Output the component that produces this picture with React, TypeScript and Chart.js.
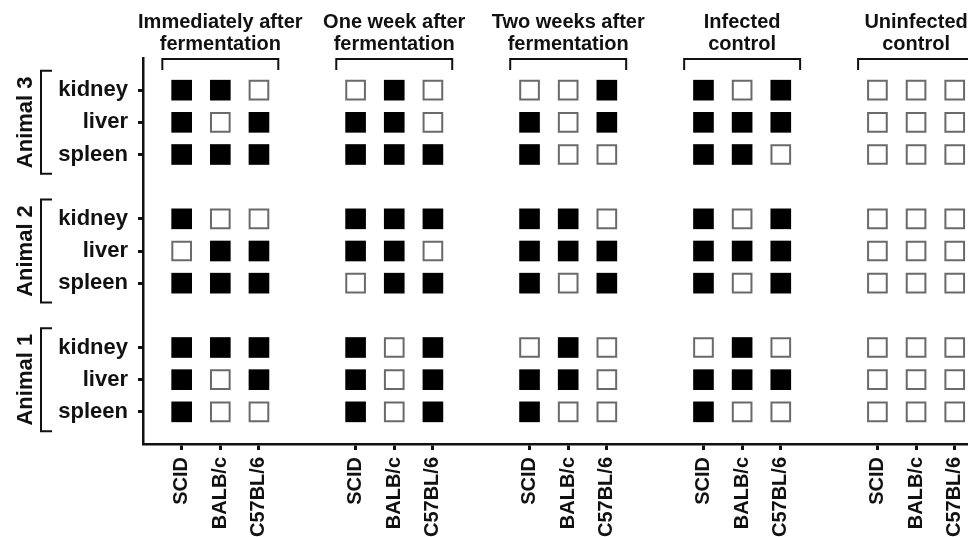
import React, { useEffect, useRef } from "react";
import { Chart, registerables } from "chart.js";

Chart.register(...registerables);

// ---- data ----
const GROUP_TITLES: string[][] = [
  ["Immediately after", "fermentation"],
  ["One week after", "fermentation"],
  ["Two weeks after", "fermentation"],
  ["Infected", "control"],
  ["Uninfected", "control"],
];
const STRAINS = ["SCID", "BALB/c", "C57BL/6"];
const ANIMALS = ["Animal 1", "Animal 2", "Animal 3"];
const ORGANS = ["spleen", "liver", "kidney"]; // bottom to top inside one animal
const GROUP_X = [0, 4.5, 9, 13.5, 18]; // axis position of the first strain of each group
const ANIMAL_Y = [0, 4, 8]; // axis position of the spleen row of each animal

// 1 = positive (filled square), 0 = negative (open square)
// rows top to bottom: Animal 3 kidney, liver, spleen, Animal 2 kidney, liver, spleen, Animal 1 kidney, liver, spleen
// columns: SCID, BALB/c, C57BL/6
const IMMEDIATELY = [
  [1, 1, 0], [1, 0, 1], [1, 1, 1],
  [1, 0, 0], [0, 1, 1], [1, 1, 1],
  [1, 1, 1], [1, 0, 1], [1, 0, 0],
];
const ONE_WEEK = [
  [0, 1, 0], [1, 1, 0], [1, 1, 1],
  [1, 1, 1], [1, 1, 0], [0, 1, 1],
  [1, 0, 1], [1, 0, 1], [1, 0, 1],
];
const TWO_WEEKS = [
  [0, 0, 1], [1, 0, 1], [1, 0, 0],
  [1, 1, 0], [1, 1, 1], [1, 0, 1],
  [0, 1, 0], [1, 1, 0], [1, 0, 0],
];
const INFECTED = [
  [1, 0, 1], [1, 1, 1], [1, 1, 0],
  [1, 0, 1], [1, 1, 1], [1, 0, 1],
  [0, 1, 0], [1, 1, 1], [1, 0, 0],
];
const UNINFECTED = [
  [0, 0, 0], [0, 0, 0], [0, 0, 0],
  [0, 0, 0], [0, 0, 0], [0, 0, 0],
  [0, 0, 0], [0, 0, 0], [0, 0, 0],
];
const RESULTS = [IMMEDIATELY, ONE_WEEK, TWO_WEEKS, INFECTED, UNINFECTED];

const X_TICKS = GROUP_X.flatMap((g) => STRAINS.map((_, i) => g + i));
const X_LABELS = GROUP_X.flatMap(() => STRAINS);
const Y_TICKS = ANIMAL_Y.flatMap((a) => ORGANS.map((_, i) => a + i));
const Y_LABELS = ANIMAL_Y.flatMap(() => ORGANS);

const FONT = '"Liberation Sans", Arial, Helvetica, sans-serif';
const INK = "#111";

function rowToY(r: number): number {
  const animal = 2 - Math.floor(r / 3);
  const organ = 2 - (r % 3);
  return ANIMAL_Y[animal] + organ;
}

function buildPoints(flag: number) {
  const pts: { x: number; y: number }[] = [];
  RESULTS.forEach((grid, g) => {
    grid.forEach((row, r) => {
      row.forEach((v, s) => {
        if (v === flag) pts.push({ x: GROUP_X[g] + s, y: rowToY(r) });
      });
    });
  });
  return pts;
}

const decorPlugin = {
  id: "decor",
  afterDraw(chart: any) {
    const { ctx, scales, chartArea } = chart;
    const xs = scales.x;
    const ys = scales.y;
    ctx.save();
    ctx.fillStyle = INK;
    ctx.strokeStyle = INK;
    ctx.lineWidth = 2;
    // group titles + brackets
    ctx.font = `bold 20px ${FONT}`;
    ctx.textAlign = "center";
    ctx.textBaseline = "alphabetic";
    GROUP_X.forEach((gx, g) => {
      const cx = xs.getPixelForValue(gx + 1);
      ctx.fillText(GROUP_TITLES[g][0], cx, chartArea.top - 30);
      ctx.fillText(GROUP_TITLES[g][1], cx, chartArea.top - 8);
      const l = xs.getPixelForValue(gx - 0.5);
      const r = xs.getPixelForValue(gx + 2.5);
      const t = chartArea.top + 1;
      const b = chartArea.top + 12;
      ctx.beginPath();
      ctx.moveTo(l, b);
      ctx.lineTo(l, t);
      ctx.lineTo(r, t);
      ctx.lineTo(r, b);
      ctx.stroke();
    });
    // animal brackets + labels
    ANIMAL_Y.forEach((ay, a) => {
      const t = ys.getPixelForValue(ay + 2.6);
      const b = ys.getPixelForValue(ay - 0.6);
      const bx = 41;
      ctx.beginPath();
      ctx.moveTo(bx + 11, t);
      ctx.lineTo(bx, t);
      ctx.lineTo(bx, b);
      ctx.lineTo(bx + 11, b);
      ctx.stroke();
      const cy = ys.getPixelForValue(ay + 1);
      ctx.save();
      ctx.translate(32, cy);
      ctx.rotate(-Math.PI / 2);
      ctx.font = `bold 22px ${FONT}`;
      ctx.textAlign = "center";
      ctx.textBaseline = "alphabetic";
      ctx.fillText(ANIMALS[a], 0, 0);
      ctx.restore();
    });
    ctx.restore();
  },
};

export default function App() {
  const ref = useRef<HTMLCanvasElement | null>(null);

  useEffect(() => {
    if (!ref.current) return;
    const chart = new Chart(ref.current, {
      type: "scatter",
      data: {
        datasets: [
          {
            label: "positive",
            data: buildPoints(1),
            pointStyle: "rect",
            pointRadius: 14.6,
            pointHoverRadius: 14.6,
            backgroundColor: "#000",
            borderColor: "#000",
            borderWidth: 0,
          },
          {
            label: "negative",
            data: buildPoints(0),
            pointStyle: "rect",
            pointRadius: 13.2,
            pointHoverRadius: 13.2,
            backgroundColor: "#fff",
            borderColor: "#6a6a6a",
            borderWidth: 2,
          },
        ],
      },
      options: {
        animation: false,
        responsive: false,
        devicePixelRatio: 1,
        layout: { autoPadding: false, padding: { top: 58, left: 0, right: 0, bottom: 0 } },
        plugins: {
          legend: { display: false },
          tooltip: { enabled: false },
        },
        events: [],
        scales: {
          x: {
            type: "linear",
            min: -1,
            max: 21.43,
            afterBuildTicks: (s: any) => {
              s.ticks = X_TICKS.map((v) => ({ value: v }));
            },
            afterFit: (s: any) => {
              s.height = 93;
              s.paddingLeft = 0;
              s.paddingRight = 0;
            },
            grid: {
              display: true,
              drawOnChartArea: false,
              drawTicks: true,
              tickLength: 6,
              tickWidth: 3,
              tickColor: INK,
            },
            border: { display: true, color: INK, width: 2.5 },
            ticks: {
              autoSkip: false,
              minRotation: 90,
              maxRotation: 90,
              padding: 7,
              color: INK,
              font: { family: FONT, size: 20, weight: "bold" },
              callback: (v: any) => {
                const i = X_TICKS.indexOf(Number(v));
                return i >= 0 ? X_LABELS[i] : "";
              },
            },
          },
          y: {
            type: "linear",
            min: -1,
            max: 11,
            afterBuildTicks: (s: any) => {
              s.ticks = Y_TICKS.map((v) => ({ value: v }));
            },
            afterFit: (s: any) => {
              s.width = 143;
            },
            grid: {
              display: true,
              drawOnChartArea: false,
              drawTicks: true,
              tickLength: 5,
              tickWidth: 3,
              tickColor: INK,
            },
            border: { display: true, color: INK, width: 2.5 },
            ticks: {
              autoSkip: false,
              padding: 10,
              color: INK,
              font: { family: FONT, size: 22, weight: "bold" },
              callback: (v: any) => {
                const i = Y_TICKS.indexOf(Number(v));
                return i >= 0 ? Y_LABELS[i] : "";
              },
            },
          },
        },
      },
      plugins: [decorPlugin],
    } as any);
    return () => chart.destroy();
  }, []);

  return (
    <div
      style={{
        position: "fixed",
        left: 0,
        top: 0,
        width: 968,
        height: 537,
        overflow: "hidden",
        background: "#fff",
      }}
    >
      <canvas ref={ref} width={1010} height={537} style={{ display: "block" }} />
    </div>
  );
}
